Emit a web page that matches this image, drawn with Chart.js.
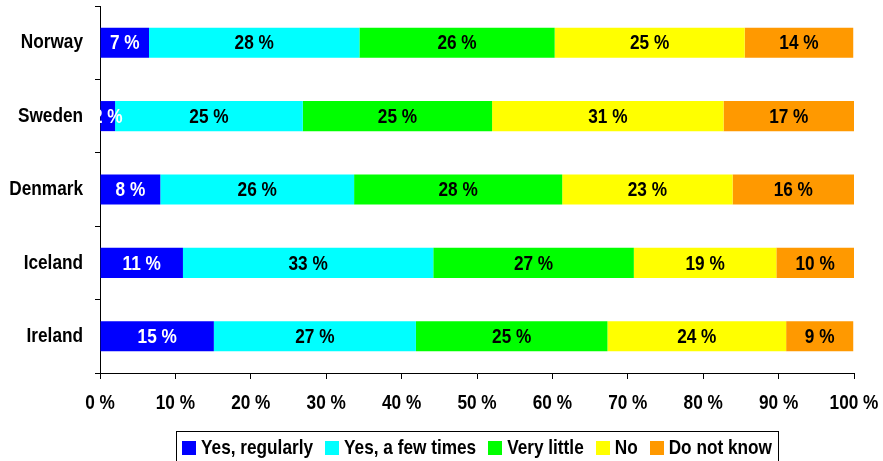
<!DOCTYPE html>
<html><head><meta charset="utf-8">
<script src="https://cdn.jsdelivr.net/npm/chart.js@4.4.0/dist/chart.umd.min.js"></script>
<style>html,body{margin:0;padding:0;background:#fff;overflow:hidden}#wrap{width:883px;height:461px;position:relative}</style>
</head><body><div id="wrap"><canvas id="c" width="883" height="461"></canvas></div>
<script>
const countries = ['Norway', 'Sweden', 'Denmark', 'Iceland', 'Ireland'];
const seriesNames = ['Yes, regularly', 'Yes, a few times', 'Very little', 'No', 'Do not know'];
const seriesColors = ['#0000FF', '#00FFFF', '#00FF00', '#FFFF00', '#FF9900'];
const labelColors = ['#FFFFFF', '#000000', '#000000', '#000000', '#000000'];
const yesRegularly = [6.5, 2.0, 8.0, 11.0, 15.1];
const yesFewTimes = [27.9, 24.9, 25.7, 33.2, 26.8];
const veryLittle = [25.9, 25.1, 27.6, 26.6, 25.4];
const noValues = [25.2, 30.7, 22.6, 18.9, 23.7];
const doNotKnow = [14.4, 17.3, 16.1, 10.3, 8.9];
const xTickValues = [0, 10, 20, 30, 40, 50, 60, 70, 80, 90, 100];

const FAM = '"Liberation Sans", Arial, sans-serif';
const SIZE = 21;
const SQUEEZE = 0.82; // emulate a narrow bold face

const canvas = document.getElementById('c');
const ctx0 = canvas.getContext('2d');
const origFill = ctx0.fillText.bind(ctx0);
ctx0.fillText = function (t, x, y, mw) {
  this.save();
  this.translate(x, y);
  this.scale(SQUEEZE, 1);
  origFill(t, 0, 0);
  this.restore();
};

const allSeries = [yesRegularly, yesFewTimes, veryLittle, noValues, doNotKnow];
const datasets = allSeries.map((vals, i) => ({
  label: seriesNames[i],
  data: vals,
  backgroundColor: seriesColors[i],
  borderWidth: 0,
  categoryPercentage: 1,
  barPercentage: 0.41
}));

const valueLabels = {
  id: 'valueLabels',
  afterDatasetsDraw(chart) {
    const ctx = chart.ctx;
    ctx.save();
    ctx.font = 'bold ' + SIZE + 'px ' + FAM;
    ctx.textAlign = 'center';
    ctx.textBaseline = 'middle';
    chart.data.datasets.forEach((ds, di) => {
      chart.getDatasetMeta(di).data.forEach((el, i) => {
        const cx = (el.x + el.base) / 2;
        ctx.fillStyle = labelColors[di];
        ctx.fillText(Math.round(ds.data[i]) + ' %', cx, el.y + 1);
      });
    });
    ctx.restore();
  }
};

const boxLegend = {
  id: 'boxLegend',
  afterDraw(chart) {
    const ctx = chart.ctx;
    ctx.save();
    ctx.font = 'bold ' + SIZE + 'px ' + FAM;
    const sq = 14, gapT = 5, gapI = 12;
    const items = chart.data.datasets.map(d => ({ t: d.label, c: d.backgroundColor, w: ctx.measureText(d.label).width * SQUEEZE }));
    let total = 0;
    items.forEach((it, i) => { total += sq + gapT + it.w + (i < items.length - 1 ? gapI : 0); });
    const cx = (chart.chartArea.left + chart.chartArea.right) / 2;
    let x = cx - total / 2;
    const boxL = x - 6, boxR = x + total + 6;
    ctx.strokeStyle = '#000';
    ctx.lineWidth = 1;
    ctx.strokeRect(Math.round(boxL) + 0.5, 431.5, Math.round(boxR - boxL), 40);
    const cy = 447.5;
    ctx.textBaseline = 'middle';
    ctx.textAlign = 'left';
    items.forEach(it => {
      ctx.fillStyle = it.c;
      ctx.fillRect(Math.round(x), Math.round(cy - 7), sq, sq);
      x += sq + gapT;
      ctx.fillStyle = '#000';
      ctx.fillText(it.t, x, cy + 1);
      x += it.w + gapI;
    });
    ctx.restore();
  }
};

function noPad(s) { s.paddingTop = 0; s.paddingBottom = 0; s.paddingLeft = 0; s.paddingRight = 0; }

new Chart(canvas, {
  type: 'bar',
  data: { labels: countries, datasets },
  options: {
    indexAxis: 'y',
    responsive: false,
    animation: false,
    layout: { padding: { top: 6, right: 29, bottom: 45, left: 0 } },
    plugins: { legend: { display: false }, tooltip: { enabled: false } },
    scales: {
      x: {
        stacked: true,
        min: 0, max: 100,
        afterBuildTicks(s) { s.ticks = xTickValues.map(v => ({ value: v })); },
        afterFit(s) { s.height = 43; noPad(s); },
        grid: { drawOnChartArea: false, tickLength: 6, color: '#000', tickColor: '#000' },
        border: { color: '#000', width: 1 },
        ticks: { color: '#000', padding: 12, font: { family: FAM, size: SIZE, weight: 'bold' }, callback: v => v + ' %', maxRotation: 0, autoSkip: false }
      },
      y: {
        stacked: true,
        afterFit(s) { s.width = 100; noPad(s); },
        grid: { offset: true, drawOnChartArea: false, tickLength: 5, color: '#000', tickColor: '#000' },
        border: { color: '#000', width: 1 },
        ticks: { color: '#000', padding: 12, font: { family: FAM, size: SIZE, weight: 'bold' } }
      }
    }
  },
  plugins: [valueLabels, boxLegend]
});
</script>
</body></html>
